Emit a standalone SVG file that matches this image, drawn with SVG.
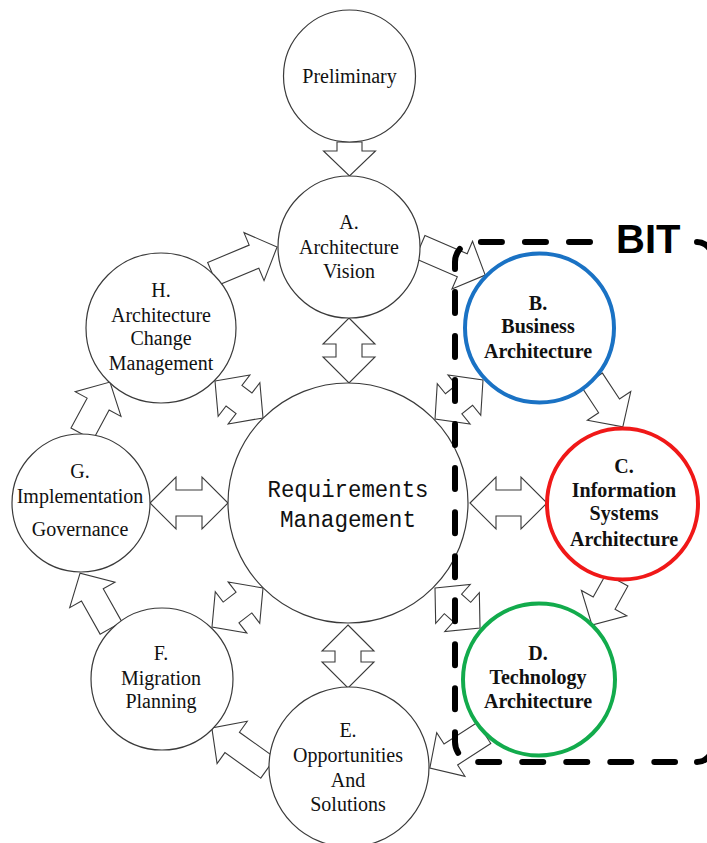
<svg xmlns="http://www.w3.org/2000/svg" width="707" height="843" viewBox="0 0 707 843">
  <style>
    .node { fill: #fff; stroke: #3a3a3a; stroke-width: 1.2; }
    .blue { fill: #fff; stroke: #1a72c4; stroke-width: 4; }
    .red { fill: #fff; stroke: #f01818; stroke-width: 4; }
    .green { fill: #fff; stroke: #12ab4c; stroke-width: 4; }
    .lbl { font-family: "Liberation Serif", "Times New Roman", serif; font-size: 20px; fill: #111; text-anchor: middle; }
    .bold { font-weight: bold; }
    .mono { font-family: "Liberation Mono", "Courier New", monospace; font-size: 23px; fill: #111; text-anchor: middle; }
    .arrow { fill: #fff; stroke: #3a3a3a; stroke-width: 1.1; stroke-linejoin: miter; }
    .bit { fill: none; stroke: #000; stroke-width: 6; stroke-linecap: round; }
    .dash { stroke-dasharray: 21 23.04; }
    .bitlabel { font-family: "Liberation Sans", Arial, sans-serif; font-size: 40px; font-weight: bold; fill: #000; }
  </style>

  <!-- block arrows between phases -->
  <g id="connectors">
    <!-- single arrows: tail at origin, tip at +L -->
    <path class="arrow" transform="translate(349.5,142) rotate(90)" d="M0,-12.5 H9 V-26 L34,0 L9,26 V12.5 H0 Z"/>
    <path class="arrow" transform="translate(212.5,274) rotate(-22.7)" d="M0,-12.5 H45 V-26 L70,0 L45,26 V12.5 H0 Z"/>
    <path class="arrow" transform="translate(420,247) rotate(23.3)" d="M0,-12.5 H46 V-26 L71,0 L46,26 V12.5 H0 Z"/>
    <path class="arrow" transform="translate(592,380) rotate(56.6)" d="M0,-12.5 H31 V-26 L56,0 L31,26 V12.5 H0 Z"/>
    <path class="arrow" transform="translate(617,580) rotate(119.1)" d="M0,-12.5 H26.5 V-26 L51.5,0 L26.5,26 V12.5 H0 Z"/>
    <path class="arrow" transform="translate(484,733) rotate(147.1)" d="M0,-12.5 H39.5 V-26 L64.5,0 L39.5,26 V12.5 H0 Z"/>
    <path class="arrow" transform="translate(268,768) rotate(215.5)" d="M0,-12.5 H44 V-26 L69,0 L44,26 V12.5 H0 Z"/>
    <path class="arrow" transform="translate(111,628) rotate(-119.4)" d="M0,-12.5 H38 V-26 L63,0 L38,26 V12.5 H0 Z"/>
    <path class="arrow" transform="translate(82,434) rotate(-61.7)" d="M0,-12.5 H34 V-26 L59,0 L34,26 V12.5 H0 Z"/>

    <!-- double arrows to and from Requirements Management -->
    <path class="arrow" transform="translate(349,318) rotate(90)" d="M0,0 L26,-26 V-13 H39 V-26 L65,0 L39,26 V13 H26 V26 Z"/>
    <path class="arrow" transform="translate(150,503)" d="M0,0 L26,-26 V-13 H52 V-26 L78,0 L52,26 V13 H26 V26 Z"/>
    <path class="arrow" transform="translate(470,503)" d="M0,0 L26,-26 V-13 H51 V-26 L77,0 L51,26 V13 H26 V26 Z"/>
    <path class="arrow" transform="translate(348,625) rotate(90)" d="M0,0 L26,-26 V-13 H37 V-26 L63,0 L37,26 V13 H26 V26 Z"/>
    <path class="arrow" transform="translate(215,381) rotate(37.6)" d="M0,0 L24,-26 V-13 H36.6 V-26 L60.6,0 L36.6,26 V13 H24 V26 Z"/>
    <path class="arrow" transform="translate(483,380) rotate(140.9)" d="M0,0 L24,-26 V-13 H37.8 V-26 L61.8,0 L37.8,26 V13 H24 V26 Z"/>
    <path class="arrow" transform="translate(435,588) rotate(41.6)" d="M0,0 L24,-26 V-13 H36.2 V-26 L60.2,0 L36.2,26 V13 H24 V26 Z"/>
    <path class="arrow" transform="translate(212,627) rotate(-37.4)" d="M0,0 L24,-26 V-13 H40.2 V-26 L64.2,0 L40.2,26 V13 H24 V26 Z"/>
  </g>

  <g id="preliminary">
    <circle class="node" cx="349.5" cy="76" r="66"/>
    <text class="lbl" x="349.5" y="83">Preliminary</text>
  </g>

  <g id="phase-a">
    <circle class="node" cx="349" cy="247" r="71"/>
    <text class="lbl" x="349" y="229">A.</text>
    <text class="lbl" x="349" y="254">Architecture</text>
    <text class="lbl" x="349" y="278">Vision</text>
  </g>

  <g id="requirements">
    <circle class="node" cx="348" cy="503" r="120"/>
    <text class="mono" x="348" y="497" textLength="161" lengthAdjust="spacingAndGlyphs">Requirements</text>
    <text class="mono" x="348" y="527" textLength="136" lengthAdjust="spacingAndGlyphs">Management</text>
  </g>

  <g id="phase-h">
    <circle class="node" cx="161" cy="328" r="75"/>
    <text class="lbl" x="161" y="297">H.</text>
    <text class="lbl" x="161" y="322">Architecture</text>
    <text class="lbl" x="161" y="345">Change</text>
    <text class="lbl" x="161" y="370">Management</text>
  </g>

  <g id="phase-g">
    <circle class="node" cx="81" cy="503" r="69"/>
    <text class="lbl" x="80" y="478">G.</text>
    <text class="lbl" x="80" y="503">Implementation</text>
    <text class="lbl" x="80" y="536">Governance</text>
  </g>

  <g id="phase-f">
    <circle class="node" cx="162" cy="679" r="71"/>
    <text class="lbl" x="161" y="660">F.</text>
    <text class="lbl" x="161" y="685">Migration</text>
    <text class="lbl" x="161" y="708">Planning</text>
  </g>

  <g id="phase-e">
    <circle class="node" cx="349" cy="767" r="80"/>
    <text class="lbl" x="348" y="737">E.</text>
    <text class="lbl" x="348" y="762">Opportunities</text>
    <text class="lbl" x="348" y="787">And</text>
    <text class="lbl" x="348" y="811">Solutions</text>
  </g>

  <g id="phase-b">
    <circle class="blue" cx="539.5" cy="328" r="74.5"/>
    <text class="lbl bold" x="538" y="310">B.</text>
    <text class="lbl bold" x="538" y="333">Business</text>
    <text class="lbl bold" x="538" y="358">Architecture</text>
  </g>

  <g id="phase-c">
    <circle class="red" cx="622.5" cy="504" r="75.5"/>
    <text class="lbl bold" x="624" y="473">C.</text>
    <text class="lbl bold" x="624" y="497">Information</text>
    <text class="lbl bold" x="624" y="520">Systems</text>
    <text class="lbl bold" x="624" y="546">Architecture</text>
  </g>

  <g id="phase-d">
    <circle class="green" cx="539" cy="679.5" r="76"/>
    <text class="lbl bold" x="538" y="660">D.</text>
    <text class="lbl bold" x="538" y="684">Technology</text>
    <text class="lbl bold" x="538" y="708">Architecture</text>
  </g>

  <!-- dashed BIT grouping around phases B, C and D; right edge runs just past the page -->
  <g id="bit-group">
    <path class="bit dash" d="M590,242 H475 A20,20 0 0 0 455,262 V742 A20,20 0 0 0 475,762 H675"/>
    <path class="bit" d="M697,762 A15,15 0 0 0 712,747"/>
    <path class="bit" d="M697,242 A15,15 0 0 1 712,257"/>
    <text class="bitlabel" x="616" y="253">BIT</text>
  </g>
</svg>
